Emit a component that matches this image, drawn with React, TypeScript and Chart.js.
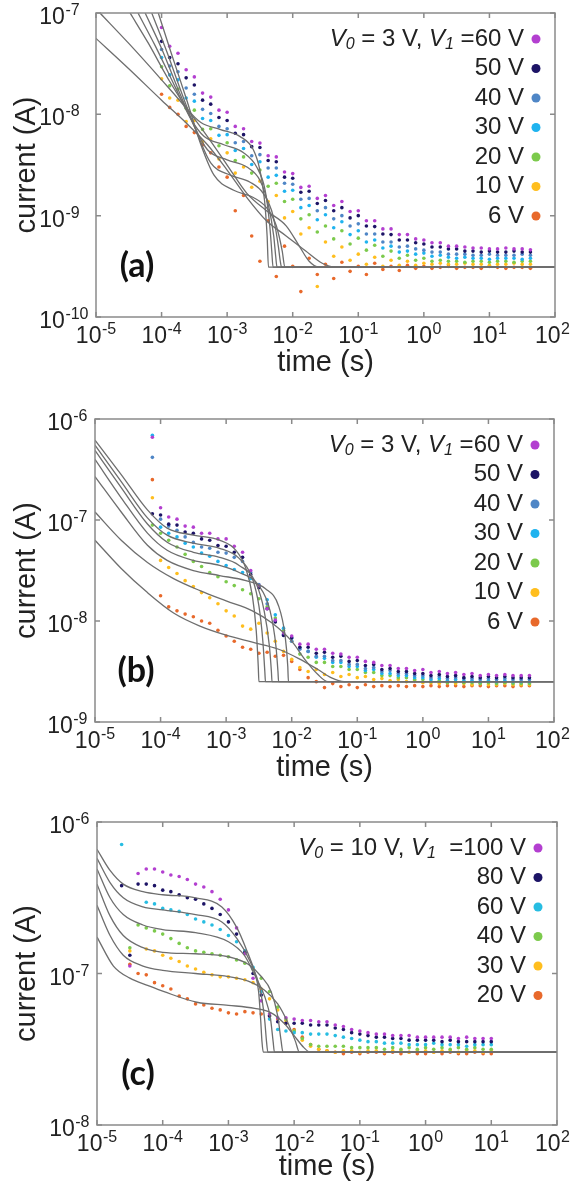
import React, { useEffect, useRef } from 'react';
import { Chart, registerables } from 'chart.js';

Chart.register(...registerables);

// ---------------- shared axis data ----------------
const xTickValues = [1e-5, 1e-4, 1e-3, 1e-2, 1e-1, 1e0, 1e1, 1e2];
const tickBase = '10';
const xTickExps = ['-5', '-4', '-3', '-2', '-1', '0', '1', '2'];

// ---------------- panel (a) ----------------
const yTicksA = [1e-10, 1e-9, 1e-8, 1e-7];
const yTickExpsA = ['-10', '-9', '-8', '-7'];
const voltsA = ['60 V', '50 V', '40 V', '30 V', '20 V', '10 V', '6 V'];
const colorsA = ['#b33fd0', '#1d1466', '#4f86c6', '#1fb3ef', '#7cca4c', '#ffbe1e', '#e8692b'];

const timeA = [
  1e-4, 1.33e-4, 1.78e-4, 2.37e-4, 3.16e-4, 4.22e-4, 5.62e-4, 7.5e-4,
  1e-3, 1.33e-3, 1.78e-3, 2.37e-3, 3.16e-3, 4.22e-3, 5.62e-3, 7.5e-3,
  1e-2, 1.33e-2, 1.78e-2, 2.37e-2, 3.16e-2, 4.22e-2, 5.62e-2, 7.5e-2,
  0.1, 0.133, 0.178, 0.237, 0.316, 0.422, 0.562, 0.75,
  1, 1.33, 1.78, 2.37, 3.16, 4.22, 5.62, 7.5,
  10, 13.3, 17.8, 23.7, 31.6, 42.2,
];
const a60 = [
  7.2e-8, 4.7e-8, 4.0e-8, 2.75e-8, 2.34e-8, 1.62e-8, 1.48e-8, 1.1e-8,
  1.05e-8, 7.6e-9, 7.2e-9, 5.4e-9, 5.2e-9, 3.9e-9, 3.8e-9, 2.7e-9,
  2.6e-9, 1.9e-9, 1.95e-9, 1.48e-9, 1.58e-9, 1.26e-9, 1.38e-9, 1.1e-9,
  1.12e-9, 8.9e-10, 8.9e-10, 7.4e-10, 7.4e-10, 6.5e-10, 6.5e-10, 5.9e-10,
  5.75e-10, 5.4e-10, 5.4e-10, 5.0e-10, 5.0e-10, 4.9e-10, 4.8e-10, 4.8e-10,
  4.7e-10, 4.7e-10, 4.8e-10, 4.7e-10, 4.7e-10, 4.6e-10,
];
const a50 = [
  5.25e-8, 3.63e-8, 3.16e-8, 2.29e-8, 1.95e-8, 1.38e-8, 1.26e-8, 9.3e-9,
  8.7e-9, 6.5e-9, 6.3e-9, 4.8e-9, 4.7e-9, 3.5e-9, 3.4e-9, 2.4e-9,
  2.34e-9, 1.7e-9, 1.74e-9, 1.32e-9, 1.41e-9, 1.12e-9, 1.2e-9, 9.5e-10,
  1.0e-9, 7.9e-10, 7.8e-10, 6.6e-10, 6.5e-10, 5.75e-10, 5.75e-10, 5.4e-10,
  5.25e-10, 4.9e-10, 4.9e-10, 4.7e-10, 4.7e-10, 4.47e-10, 4.47e-10, 4.37e-10,
  4.47e-10, 4.37e-10, 4.37e-10, 4.47e-10, 4.37e-10, 4.37e-10,
];
const a40 = [
  4.37e-8, 3.0e-8, 2.63e-8, 1.82e-8, 1.58e-8, 1.12e-8, 1.02e-8, 7.6e-9,
  7.2e-9, 5.25e-9, 5.4e-9, 3.9e-9, 4.0e-9, 2.95e-9, 2.95e-9, 2.09e-9,
  2.04e-9, 1.45e-9, 1.48e-9, 1.12e-9, 1.2e-9, 9.3e-10, 1.0e-9, 7.9e-10,
  8.3e-10, 6.6e-10, 6.6e-10, 5.5e-10, 5.5e-10, 4.9e-10, 5.0e-10, 4.7e-10,
  4.57e-10, 4.37e-10, 4.37e-10, 4.17e-10, 4.17e-10, 4.17e-10, 4.07e-10, 4.07e-10,
  4.17e-10, 4.07e-10, 4.07e-10, 4.07e-10, 4.17e-10, 4.07e-10,
];
const a30 = [
  3.63e-8, 2.45e-8, 2.19e-8, 1.45e-8, 1.35e-8, 9.1e-9, 8.7e-9, 6.2e-9,
  6.3e-9, 4.4e-9, 4.6e-9, 3.2e-9, 3.4e-9, 2.4e-9, 2.5e-9, 1.74e-9,
  1.78e-9, 1.2e-9, 1.26e-9, 9.1e-10, 1.02e-9, 7.6e-10, 8.7e-10, 6.5e-10,
  7.1e-10, 5.5e-10, 5.75e-10, 4.8e-10, 5.0e-10, 4.37e-10, 4.47e-10, 4.17e-10,
  4.27e-10, 3.98e-10, 4.07e-10, 3.89e-10, 3.8e-10, 3.89e-10, 3.8e-10, 3.8e-10,
  3.72e-10, 3.8e-10, 3.8e-10, 3.8e-10, 3.72e-10, 3.8e-10,
];
const a20 = [
  2.95e-8, 1.91e-8, 1.78e-8, 1.15e-8, 1.1e-8, 7.1e-9, 7.2e-9, 4.9e-9,
  5.25e-9, 3.5e-9, 3.8e-9, 2.63e-9, 2.82e-9, 1.95e-9, 2.09e-9, 1.38e-9,
  1.45e-9, 9.3e-10, 1.02e-9, 6.9e-10, 7.9e-10, 5.9e-10, 7.1e-10, 5.25e-10,
  6.0e-10, 4.57e-10, 5.1e-10, 3.98e-10, 4.47e-10, 3.8e-10, 4.07e-10, 3.63e-10,
  3.8e-10, 3.55e-10, 3.63e-10, 3.55e-10, 3.55e-10, 3.47e-10, 3.55e-10, 3.55e-10,
  3.47e-10, 3.55e-10, 3.55e-10, 3.47e-10, 3.55e-10, 3.55e-10,
];
const a10 = [
  2.24e-8, 1.45e-8, 1.38e-8, 8.5e-9, 8.7e-9, 5.4e-9, 5.75e-9, 3.63e-9,
  4.17e-9, 2.63e-9, 3.02e-9, 1.91e-9, 2.19e-9, 1.38e-9, 1.58e-9, 9.5e-10,
  1.1e-9, 6.6e-10, 7.6e-10, 2.0e-10, 5.5e-10, 3.98e-10, 4.9e-10, 3.63e-10,
  4.17e-10, 3.31e-10, 3.89e-10, 3.16e-10, 3.63e-10, 3.24e-10, 3.55e-10, 3.24e-10,
  3.39e-10, 3.31e-10, 3.39e-10, 3.31e-10, 3.31e-10, 3.39e-10, 3.31e-10, 3.31e-10,
  3.24e-10, 3.31e-10, 3.31e-10, 3.39e-10, 3.31e-10, 3.31e-10,
];
const a6 = [
  1.58e-8, 1.17e-8, 1.0e-8, 7.6e-9, 6.6e-9, 5.0e-9, 4.17e-9, 3.02e-9,
  2.4e-9, 1.12e-9, 1.58e-9, 6.3e-10, 3.55e-10, 8.9e-10, 2.51e-10, 5.0e-10,
  3.16e-10, 1.78e-10, 3.8e-10, 2.63e-10, 3.31e-10, 2.4e-10, 3.47e-10, 2.82e-10,
  3.16e-10, 2.63e-10, 3.39e-10, 2.95e-10, 3.16e-10, 2.88e-10, 3.24e-10, 3.02e-10,
  3.16e-10, 3.02e-10, 3.09e-10, 3.16e-10, 3.02e-10, 3.09e-10, 3.09e-10, 3.02e-10,
  3.16e-10, 3.09e-10, 3.02e-10, 3.09e-10, 3.09e-10, 3.02e-10,
];
const fitA60 = [[3.31e-5, 1e-7], [6.31e-5, 5.01e-8], [1.26e-4, 2.24e-8], [2.51e-4, 1.12e-8], [3.98e-4, 8.32e-9], [7.94e-4, 7.08e-9], [1.58e-3, 6.03e-9], [2.51e-3, 4.47e-9], [3.16e-3, 2.82e-9], [3.72e-3, 1.41e-9], [4.07e-3, 6.31e-10], [4.27e-3, 3.11e-10], [100, 3.11e-10]];
const fitA50 = [[4.37e-5, 1e-7], [7.94e-5, 4.79e-8], [1.58e-4, 1.91e-8], [2.82e-4, 8.91e-9], [4.47e-4, 6.03e-9], [8.91e-4, 5.01e-9], [1.78e-3, 4.17e-9], [2.82e-3, 3.02e-9], [3.8e-3, 1.78e-9], [4.47e-3, 7.94e-10], [4.79e-3, 4.47e-10], [5.01e-3, 3.11e-10], [100, 3.11e-10]];
const fitA40 = [[5.62e-5, 1e-7], [1e-4, 4.47e-8], [1.78e-4, 1.78e-8], [3.16e-4, 7.59e-9], [5.01e-4, 4.47e-9], [1e-3, 3.55e-9], [2.0e-3, 3.02e-9], [3.16e-3, 2.24e-9], [4.27e-3, 1.26e-9], [5.13e-3, 6.31e-10], [5.5e-3, 3.98e-10], [5.75e-3, 3.11e-10], [100, 3.11e-10]];
const fitA30 = [[7.08e-5, 1e-7], [1.2e-4, 4.17e-8], [2.0e-4, 1.66e-8], [3.55e-4, 6.31e-9], [5.62e-4, 3.31e-9], [1.12e-3, 2.51e-9], [2.24e-3, 2.14e-9], [3.55e-3, 1.66e-9], [5.01e-3, 1e-9], [6.03e-3, 5.01e-10], [6.46e-3, 3.55e-10], [6.76e-3, 3.11e-10], [100, 3.11e-10]];
const fitA20 = [[8.91e-5, 1e-7], [1.41e-4, 3.98e-8], [2.4e-4, 1.41e-8], [3.98e-4, 5.01e-9], [6.31e-4, 2.51e-9], [1.26e-3, 1.78e-9], [2.51e-3, 1.51e-9], [3.98e-3, 1.2e-9], [5.62e-3, 7.94e-10], [6.92e-3, 4.47e-10], [7.59e-3, 3.11e-10], [100, 3.11e-10]];
const fitA10 = [[1.15e-5, 1e-7], [3.16e-5, 5.01e-8], [1e-4, 2.19e-8], [2.51e-4, 1.1e-8], [5.01e-4, 6.03e-9], [1e-3, 3.16e-9], [2.0e-3, 1.66e-9], [3.98e-3, 1.12e-9], [7.94e-3, 7.94e-10], [1.26e-2, 5.01e-10], [1.78e-2, 3.55e-10], [2.51e-2, 3.11e-10], [100, 3.11e-10]];
const fitA6 = [[1e-5, 5.62e-8], [3.16e-5, 2.82e-8], [1e-4, 1.38e-8], [2.51e-4, 7.94e-9], [5.01e-4, 5.01e-9], [1e-3, 2.82e-9], [2.0e-3, 1.51e-9], [3.98e-3, 8.91e-10], [7.94e-3, 6.31e-10], [1.58e-2, 4.47e-10], [2.82e-2, 3.39e-10], [4.47e-2, 3.11e-10], [100, 3.11e-10]];

// ---------------- panel (b) ----------------
const yTicksB = [1e-9, 1e-8, 1e-7, 1e-6];
const yTickExpsB = ['-9', '-8', '-7', '-6'];
const voltsB = ['60 V', '50 V', '40 V', '30 V', '20 V', '10 V', '6 V'];
const colorsB = ['#b33fd0', '#1d1466', '#4f86c6', '#1fb3ef', '#7cca4c', '#ffbe1e', '#e8692b'];

const timeB = [
  7.5e-5,
  1e-4, 1.33e-4, 1.78e-4, 2.37e-4, 3.16e-4, 4.22e-4, 5.62e-4, 7.5e-4,
  1e-3, 1.33e-3, 1.78e-3, 2.37e-3, 3.16e-3, 4.22e-3, 5.62e-3, 7.5e-3,
  1e-2, 1.33e-2, 1.78e-2, 2.37e-2, 3.16e-2, 4.22e-2, 5.62e-2, 7.5e-2,
  0.1, 0.133, 0.178, 0.237, 0.316, 0.422, 0.562, 0.75,
  1, 1.33, 1.78, 2.37, 3.16, 4.22, 5.62, 7.5,
  10, 13.3, 17.8, 23.7, 31.6, 42.2,
];
const b60 = [
  6.6e-7, 1.32e-7, 1.07e-7, 1.02e-7, 8.7e-8, 8.5e-8, 7.4e-8, 7.4e-8,
  6.5e-8, 6.5e-8, 5.5e-8, 4.8e-8, 3.16e-8, 2.24e-8, 1.32e-8, 1.02e-8,
  7.6e-9, 7.1e-9, 5.9e-9, 5.9e-9, 5.25e-9, 5.25e-9, 4.8e-9, 4.7e-9,
  4.37e-9, 4.37e-9, 3.98e-9, 3.89e-9, 3.63e-9, 3.63e-9, 3.39e-9, 3.39e-9,
  3.24e-9, 3.31e-9, 3.09e-9, 3.16e-9, 3.02e-9, 3.09e-9, 2.95e-9, 3.02e-9,
  2.88e-9, 2.95e-9, 2.88e-9, 2.95e-9, 2.88e-9, 2.88e-9, 2.88e-9,
];
const b50 = [
  1.15e-7, 1.12e-7, 9.1e-8, 8.9e-8, 7.6e-8, 7.4e-8, 6.5e-8, 6.3e-8,
  5.6e-8, 5.5e-8, 4.8e-8, 4.27e-8, 2.88e-8, 2.14e-8, 1.32e-8, 9.8e-9,
  7.2e-9, 6.8e-9, 5.5e-9, 5.5e-9, 4.8e-9, 4.9e-9, 4.37e-9, 4.47e-9,
  3.98e-9, 4.07e-9, 3.63e-9, 3.72e-9, 3.31e-9, 3.39e-9, 3.16e-9, 3.16e-9,
  3.02e-9, 3.02e-9, 2.88e-9, 2.95e-9, 2.82e-9, 2.88e-9, 2.75e-9, 2.82e-9,
  2.75e-9, 2.82e-9, 2.75e-9, 2.82e-9, 2.75e-9, 2.75e-9, 2.75e-9,
];
const b40 = [
  4.17e-7, 1.02e-7, 8.7e-8, 7.9e-8, 6.8e-8, 6.0e-8, 5.4e-8, 5.25e-8,
  4.8e-8, 4.7e-8, 4.27e-8, 3.89e-8, 3.02e-8, 2.29e-8, 1.48e-8, 1.0e-8,
  7.4e-9, 6.3e-9, 5.25e-9, 5.0e-9, 4.47e-9, 4.47e-9, 4.07e-9, 4.07e-9,
  3.72e-9, 3.72e-9, 3.39e-9, 3.47e-9, 3.16e-9, 3.24e-9, 3.02e-9, 3.02e-9,
  2.88e-9, 2.88e-9, 2.75e-9, 2.82e-9, 2.69e-9, 2.75e-9, 2.69e-9, 2.69e-9,
  2.63e-9, 2.69e-9, 2.63e-9, 2.69e-9, 2.63e-9, 2.63e-9, 2.63e-9,
];
const b30 = [
  6.9e-7, 8.5e-8, 7.4e-8, 6.8e-8, 5.9e-8, 5.4e-8, 4.7e-8, 4.37e-8,
  3.89e-8, 3.55e-8, 3.24e-8, 3.02e-8, 2.63e-8, 2.19e-8, 1.62e-8, 1.15e-8,
  8.5e-9, 6.8e-9, 5.4e-9, 5.0e-9, 4.37e-9, 4.27e-9, 3.89e-9, 3.89e-9,
  3.55e-9, 3.55e-9, 3.24e-9, 3.31e-9, 3.02e-9, 3.02e-9, 2.88e-9, 2.88e-9,
  2.75e-9, 2.75e-9, 2.63e-9, 2.69e-9, 2.57e-9, 2.63e-9, 2.57e-9, 2.57e-9,
  2.51e-9, 2.57e-9, 2.51e-9, 2.57e-9, 2.51e-9, 2.51e-9, 2.51e-9,
];
const b20 = [
  8.9e-8, 7.4e-8, 6.3e-8, 5.4e-8, 4.57e-8, 3.89e-8, 3.47e-8, 3.02e-8,
  2.75e-8, 2.45e-8, 2.24e-8, 2.04e-8, 1.86e-8, 1.66e-8, 1.38e-8, 1.07e-8,
  8.1e-9, 6.3e-9, 4.7e-9, 4.37e-9, 3.89e-9, 3.89e-9, 3.55e-9, 3.55e-9,
  3.31e-9, 3.31e-9, 3.09e-9, 3.09e-9, 2.88e-9, 2.88e-9, 2.75e-9, 2.75e-9,
  2.63e-9, 2.63e-9, 2.51e-9, 2.57e-9, 2.45e-9, 2.51e-9, 2.45e-9, 2.45e-9,
  2.4e-9, 2.45e-9, 2.4e-9, 2.45e-9, 2.4e-9, 2.4e-9, 2.4e-9,
];
const b10 = [
  1.66e-7, 3.98e-8, 3.39e-8, 2.95e-8, 2.51e-8, 2.19e-8, 1.91e-8, 1.7e-8,
  1.48e-8, 1.26e-8, 1.12e-8, 8.9e-9, 8.3e-9, 9.5e-9, 7.6e-9, 6.3e-9,
  5.0e-9, 4.17e-9, 3.47e-9, 3.16e-9, 3.31e-9, 2.95e-9, 3.09e-9, 2.82e-9,
  2.95e-9, 2.75e-9, 2.82e-9, 2.63e-9, 2.69e-9, 2.57e-9, 2.63e-9, 2.51e-9,
  2.57e-9, 2.45e-9, 2.45e-9, 2.4e-9, 2.45e-9, 2.4e-9, 2.4e-9, 2.34e-9,
  2.4e-9, 2.34e-9, 2.34e-9, 2.4e-9, 2.34e-9, 2.34e-9, 2.34e-9,
];
const b6 = [
  2.51e-7, 1.78e-8, 1.38e-8, 1.26e-8, 1.17e-8, 1.1e-8, 1.0e-8, 9.5e-9,
  8.1e-9, 7.1e-9, 6.3e-9, 5.5e-9, 5.25e-9, 4.8e-9, 4.9e-9, 4.47e-9,
  4.57e-9, 3.98e-9, 3.31e-9, 2.75e-9, 2.51e-9, 2.19e-9, 2.4e-9, 2.24e-9,
  2.34e-9, 2.19e-9, 2.34e-9, 2.24e-9, 2.29e-9, 2.24e-9, 2.29e-9, 2.24e-9,
  2.29e-9, 2.24e-9, 2.29e-9, 2.24e-9, 2.29e-9, 2.29e-9, 2.24e-9, 2.29e-9,
  2.29e-9, 2.24e-9, 2.29e-9, 2.29e-9, 2.24e-9, 2.29e-9, 2.29e-9,
];
const fitB60 = [[1e-5, 6.17e-7], [2.51e-5, 2.82e-7], [6.31e-5, 1.26e-7], [1.26e-4, 8.32e-8], [3.16e-4, 7.08e-8], [7.94e-4, 6.31e-8], [1.41e-3, 5.01e-8], [2.0e-3, 3.31e-8], [2.51e-3, 1.78e-8], [2.88e-3, 7.94e-9], [3.09e-3, 3.55e-9], [3.16e-3, 2.51e-9], [100, 2.51e-9]];
const fitB50 = [[1e-5, 5.5e-7], [2.51e-5, 2.4e-7], [6.31e-5, 1.05e-7], [1.26e-4, 7.08e-8], [3.16e-4, 5.89e-8], [7.94e-4, 5.25e-8], [1.58e-3, 4.17e-8], [2.51e-3, 2.63e-8], [3.16e-3, 1.41e-8], [3.63e-3, 6.31e-9], [3.89e-3, 3.16e-9], [3.98e-3, 2.51e-9], [100, 2.51e-9]];
const fitB40 = [[1e-5, 4.9e-7], [2.51e-5, 2.09e-7], [6.31e-5, 9.12e-8], [1.26e-4, 6.03e-8], [3.16e-4, 4.79e-8], [7.94e-4, 4.27e-8], [1.58e-3, 3.55e-8], [2.82e-3, 2.4e-8], [3.8e-3, 1.26e-8], [4.57e-3, 5.62e-9], [4.9e-3, 3.16e-9], [5.01e-3, 2.51e-9], [100, 2.51e-9]];
const fitB30 = [[1e-5, 3.98e-7], [2.51e-5, 1.66e-7], [6.31e-5, 7.41e-8], [1.26e-4, 5.01e-8], [3.16e-4, 3.98e-8], [7.94e-4, 3.55e-8], [1.58e-3, 3.02e-8], [3.16e-3, 2.24e-8], [4.68e-3, 1.26e-8], [5.75e-3, 5.62e-9], [6.17e-3, 3.16e-9], [6.31e-3, 2.51e-9], [100, 2.51e-9]];
const fitB20 = [[1e-5, 2.69e-7], [2.51e-5, 1.2e-7], [6.31e-5, 5.62e-8], [1.26e-4, 3.98e-8], [3.16e-4, 3.16e-8], [7.94e-4, 2.82e-8], [2.0e-3, 2.51e-8], [3.98e-3, 2.09e-8], [6.31e-3, 1.41e-8], [7.94e-3, 7.08e-9], [8.71e-3, 3.55e-9], [8.91e-3, 2.51e-9], [100, 2.51e-9]];
const fitB10 = [[1e-5, 1.2e-7], [2.51e-5, 6.31e-8], [6.31e-5, 3.8e-8], [1.58e-4, 2.63e-8], [3.98e-4, 2.0e-8], [1e-3, 1.58e-8], [2.51e-3, 1.26e-8], [5.01e-3, 9.55e-9], [1e-2, 6.31e-9], [1.58e-2, 4.17e-9], [2.51e-2, 2.95e-9], [3.55e-2, 2.51e-9], [100, 2.51e-9]];
const fitB6 = [[1e-5, 6.31e-8], [2.51e-5, 3.31e-8], [6.31e-5, 1.91e-8], [1.58e-4, 1.2e-8], [3.98e-4, 8.91e-9], [1e-3, 7.24e-9], [2.51e-3, 6.17e-9], [6.31e-3, 5.25e-9], [1.26e-2, 4.27e-9], [2.51e-2, 3.31e-9], [3.98e-2, 2.75e-9], [6.31e-2, 2.51e-9], [100, 2.51e-9]];

// ---------------- panel (c) ----------------
const yTicksC = [1e-8, 1e-7, 1e-6];
const yTickExpsC = ['-8', '-7', '-6'];
const voltsC = ['100 V', '80 V', '60 V', '40 V', '30 V', '20 V'];
const colorsC = ['#b33fd0', '#1d1466', '#27bde2', '#7cca4c', '#ffbe1e', '#e8692b'];

const timeC = [
  2.37e-5, 3.16e-5, 4.22e-5, 5.62e-5, 7.5e-5,
  1e-4, 1.33e-4, 1.78e-4, 2.37e-4, 3.16e-4, 4.22e-4, 5.62e-4, 7.5e-4,
  1e-3, 1.33e-3, 1.78e-3, 2.37e-3, 3.16e-3, 4.22e-3, 5.62e-3, 7.5e-3,
  1e-2, 1.33e-2, 1.78e-2, 2.37e-2, 3.16e-2, 4.22e-2, 5.62e-2, 7.5e-2,
  0.1, 0.133, 0.178, 0.237, 0.316, 0.422, 0.562, 0.75,
  1, 1.33, 1.78, 2.37, 3.16, 4.22, 5.62, 7.5,
  10,
];
const c100 = [
  null, 1.12e-7, 4.57e-7, 4.9e-7, 4.9e-7, 4.68e-7, 4.47e-7, 4.37e-7,
  4.17e-7, 3.89e-7, 3.72e-7, 3.47e-7, 3.09e-7, 2.63e-7, 2.0e-7, 1.35e-7,
  9.3e-8, 6.6e-8, 5.4e-8, 5.1e-8, 5.1e-8, 5.0e-8, 4.9e-8, 4.9e-8,
  4.8e-8, 4.8e-8, 4.57e-8, 4.47e-8, 4.27e-8, 4.17e-8, 4.07e-8, 3.98e-8,
  3.98e-8, 3.89e-8, 3.89e-8, 3.89e-8, 3.8e-8, 3.8e-8, 3.8e-8, 3.8e-8,
  3.8e-8, 3.72e-8, 3.8e-8, 3.72e-8, 3.72e-8, 3.72e-8,
];
const c80 = [
  3.8e-7, 1.32e-7, 3.89e-7, 3.89e-7, 3.8e-7, 3.55e-7, 3.47e-7, 3.31e-7,
  3.16e-7, 3.09e-7, 2.88e-7, 2.69e-7, 2.45e-7, 2.19e-7, 1.82e-7, 1.38e-7,
  1.0e-7, 7.2e-8, 5.25e-8, 4.8e-8, 4.7e-8, 4.7e-8, 4.7e-8, 4.57e-8,
  4.57e-8, 4.57e-8, 4.37e-8, 4.27e-8, 4.07e-8, 3.98e-8, 3.89e-8, 3.8e-8,
  3.8e-8, 3.72e-8, 3.72e-8, 3.63e-8, 3.63e-8, 3.63e-8, 3.63e-8, 3.55e-8,
  3.63e-8, 3.55e-8, 3.55e-8, 3.55e-8, 3.55e-8, 3.55e-8,
];
const c60 = [
  7.1e-7, null, null, 2.95e-7, 2.88e-7, 2.69e-7, 2.63e-7, 2.57e-7,
  2.45e-7, 2.29e-7, 2.19e-7, 2.09e-7, 1.95e-7, 1.78e-7, 1.62e-7, 1.41e-7,
  1.1e-7, 7.6e-8, 5.0e-8, 4.27e-8, 4.17e-8, 4.07e-8, 4.07e-8, 3.98e-8,
  3.98e-8, 3.98e-8, 3.89e-8, 3.8e-8, 3.72e-8, 3.63e-8, 3.55e-8, 3.55e-8,
  3.47e-8, 3.47e-8, 3.47e-8, 3.39e-8, 3.39e-8, 3.39e-8, 3.47e-8, 3.39e-8,
  3.39e-8, 3.39e-8, 3.31e-8, 3.39e-8, 3.39e-8, 3.39e-8,
];
const c40 = [
  null, 1.48e-7, 2.09e-7, 2.0e-7, 1.91e-7, 1.82e-7, 1.7e-7, 1.58e-7,
  1.48e-7, 1.41e-7, 1.38e-7, 1.35e-7, 1.32e-7, 1.29e-7, 1.23e-7, 1.17e-7,
  1.07e-7, 9.3e-8, 7.6e-8, 6.0e-8, 5.0e-8, 4.17e-8, 3.72e-8, 3.39e-8,
  3.31e-8, 3.31e-8, 3.31e-8, 3.31e-8, 3.24e-8, 3.24e-8, 3.24e-8, 3.24e-8,
  3.16e-8, 3.24e-8, 3.16e-8, 3.24e-8, 3.16e-8, 3.24e-8, 3.16e-8, 3.24e-8,
  3.16e-8, 3.24e-8, 3.16e-8, 3.24e-8, 3.16e-8, 3.16e-8,
];
const c30 = [
  null, 1.41e-7, null, 1.45e-7, 1.41e-7, 1.32e-7, 1.26e-7, 1.2e-7,
  1.12e-7, 1.07e-7, 1.02e-7, 9.8e-8, 9.5e-8, 9.5e-8, 9.3e-8, 9.1e-8,
  8.7e-8, 7.9e-8, 6.8e-8, 5.75e-8, 4.9e-8, 4.17e-8, 3.63e-8, 3.31e-8,
  3.16e-8, 3.09e-8, 3.02e-8, 3.09e-8, 3.09e-8, 3.02e-8, 3.09e-8, 3.09e-8,
  3.02e-8, 3.09e-8, 3.09e-8, 3.02e-8, 3.09e-8, 3.09e-8, 3.02e-8, 3.09e-8,
  3.09e-8, 3.02e-8, 3.09e-8, 3.09e-8, 3.02e-8, 3.09e-8,
];
const c20 = [
  null, 1.15e-7, 1.0e-7, 9.8e-8, 8.7e-8, 8.3e-8, 7.9e-8, 7.1e-8,
  6.8e-8, 6.3e-8, 6.2e-8, 5.9e-8, 5.75e-8, 5.5e-8, 5.4e-8, 5.6e-8,
  5.5e-8, 5.4e-8, 5.25e-8, 5.0e-8, 4.7e-8, 4.27e-8, 3.8e-8, 3.39e-8,
  3.16e-8, 3.09e-8, 3.02e-8, 2.95e-8, 3.02e-8, 2.95e-8, 3.02e-8, 3.02e-8,
  2.95e-8, 3.02e-8, 2.95e-8, 3.02e-8, 2.95e-8, 2.95e-8, 3.02e-8, 2.95e-8,
  3.02e-8, 2.95e-8, 2.95e-8, 3.02e-8, 2.95e-8, 2.95e-8,
];
const fitC100 = [[1e-5, 6.61e-7], [1.58e-5, 4.79e-7], [2.51e-5, 3.89e-7], [5.01e-5, 3.47e-7], [1e-4, 3.31e-7], [3.16e-4, 3.16e-7], [7.94e-4, 2.75e-7], [1.35e-3, 2.0e-7], [1.95e-3, 1.38e-7], [2.51e-3, 1.02e-7], [2.88e-3, 7.59e-8], [3.09e-3, 5.01e-8], [3.24e-3, 3.55e-8], [3.39e-3, 3.03e-8], [100, 3.03e-8]];
const fitC80 = [[1e-5, 5.75e-7], [1.58e-5, 3.98e-7], [2.51e-5, 3.16e-7], [5.01e-5, 2.75e-7], [1e-4, 2.63e-7], [3.16e-4, 2.45e-7], [7.94e-4, 2.19e-7], [1.35e-3, 1.7e-7], [2.14e-3, 1.2e-7], [3.02e-3, 7.94e-8], [3.55e-3, 5.01e-8], [3.8e-3, 3.55e-8], [3.98e-3, 3.03e-8], [100, 3.03e-8]];
const fitC60 = [[1e-5, 4.9e-7], [1.58e-5, 3.16e-7], [2.51e-5, 2.45e-7], [5.01e-5, 2.09e-7], [1e-4, 1.95e-7], [3.16e-4, 1.86e-7], [1e-3, 1.62e-7], [1.74e-3, 1.32e-7], [2.51e-3, 9.77e-8], [3.55e-3, 7.08e-8], [4.37e-3, 5.01e-8], [4.79e-3, 3.55e-8], [5.01e-3, 3.03e-8], [100, 3.03e-8]];
const fitC40 = [[1e-5, 3.89e-7], [1.58e-5, 2.4e-7], [2.51e-5, 1.78e-7], [5.01e-5, 1.48e-7], [1e-4, 1.38e-7], [3.16e-4, 1.35e-7], [1e-3, 1.29e-7], [2.0e-3, 1.15e-7], [3.16e-3, 9.55e-8], [4.47e-3, 7.59e-8], [5.62e-3, 5.25e-8], [6.31e-3, 3.63e-8], [6.76e-3, 3.03e-8], [100, 3.03e-8]];
const fitC30 = [[1e-5, 2.82e-7], [1.58e-5, 1.78e-7], [2.51e-5, 1.32e-7], [5.01e-5, 1.12e-7], [1e-4, 1.05e-7], [3.16e-4, 1e-7], [1e-3, 9.55e-8], [2.0e-3, 8.91e-8], [3.55e-3, 7.76e-8], [5.62e-3, 6.31e-8], [7.94e-3, 4.79e-8], [1.05e-2, 3.55e-8], [1.2e-2, 3.03e-8], [100, 3.03e-8]];
const fitC20 = [[1e-5, 1.74e-7], [1.78e-5, 1.12e-7], [3.16e-5, 9.33e-8], [6.03e-5, 8.32e-8], [1.05e-4, 7.59e-8], [3.31e-4, 6.46e-8], [1e-3, 6.17e-8], [2.51e-3, 5.89e-8], [4.47e-3, 5.5e-8], [7.08e-3, 4.68e-8], [1e-2, 3.89e-8], [1.41e-2, 3.24e-8], [1.74e-2, 3.03e-8], [100, 3.03e-8]];

// ---------------- styling ----------------
const TEXT_COLOR = '#222222';
const FIT_COLOR = '#6e6e6e';
const FRAME_COLOR = '#8a8a8a';
const TEXT_FAMILY = "'Liberation Sans', Arial, sans-serif";
const TICK_BASE_FONT = `23px ${TEXT_FAMILY}`;
const TICK_SUP_FONT = `16px ${TEXT_FAMILY}`;
const LETTER_FONT = "bold 34px Lato, 'Liberation Sans', sans-serif";

type HeaderPart = { t: string; italic?: boolean; sub?: boolean };

const headerAB: HeaderPart[] = [
  { t: 'V', italic: true }, { t: '0', italic: true, sub: true }, { t: ' = 3 V, ' },
  { t: 'V', italic: true }, { t: '1', italic: true, sub: true }, { t: ' =' },
];
const headerC: HeaderPart[] = [
  { t: 'V', italic: true }, { t: '0', italic: true, sub: true }, { t: ' = 10 V, ' },
  { t: 'V', italic: true }, { t: '1', italic: true, sub: true }, { t: '  =' },
];

interface PanelSpec {
  times: number[];
  series: (number | null)[][];
  labels: string[];
  colors: string[];
  fits: number[][][];
  yMin: number;
  yMax: number;
  yTicks: number[];
  yTickExps: string[];
  header: HeaderPart[];
  letter: string;
  top: number;
  height: number;
  padTop: number;
  padRight: number;
  padBottom: number;
  yAxisWidth: number;
  xAxisHeight: number;
}

const panels: PanelSpec[] = [
  {
    times: timeA, series: [a60, a50, a40, a30, a20, a10, a6], labels: voltsA, colors: colorsA,
    fits: [fitA60, fitA50, fitA40, fitA30, fitA20, fitA10, fitA6],
    yMin: 1e-10, yMax: 1e-7, yTicks: yTicksA, yTickExps: yTickExpsA, header: headerAB, letter: '(a)',
    top: 0, height: 390, padTop: 13, padRight: 15, padBottom: 10, yAxisWidth: 96, xAxisHeight: 63,
  },
  {
    times: timeB, series: [b60, b50, b40, b30, b20, b10, b6], labels: voltsB, colors: colorsB,
    fits: [fitB60, fitB50, fitB40, fitB30, fitB20, fitB10, fitB6],
    yMin: 1e-9, yMax: 1e-6, yTicks: yTicksB, yTickExps: yTickExpsB, header: headerAB, letter: '(b)',
    top: 390, height: 400, padTop: 29, padRight: 16, padBottom: 5, yAxisWidth: 95, xAxisHeight: 63,
  },
  {
    times: timeC, series: [c100, c80, c60, c40, c30, c20], labels: voltsC, colors: colorsC,
    fits: [fitC100, fitC80, fitC60, fitC40, fitC30, fitC20],
    yMin: 1e-8, yMax: 1e-6, yTicks: yTicksC, yTickExps: yTickExpsC, header: headerC, letter: '(c)',
    top: 790, height: 401, padTop: 32, padRight: 13, padBottom: 7, yAxisWidth: 97, xAxisHeight: 59,
  },
];

function powWidth(ctx: CanvasRenderingContext2D, exp: string) {
  ctx.font = TICK_BASE_FONT;
  const wb = ctx.measureText(tickBase).width;
  ctx.font = TICK_SUP_FONT;
  const ws = ctx.measureText(exp).width;
  return { wb, ws };
}

function drawPow(ctx: CanvasRenderingContext2D, exp: string, left: number, baseline: number) {
  const { wb } = powWidth(ctx, exp);
  ctx.font = TICK_BASE_FONT;
  ctx.fillText(tickBase, left, baseline);
  ctx.font = TICK_SUP_FONT;
  ctx.fillText(exp, left + wb + 0.5, baseline - 9);
}

function makeDecor(p: PanelSpec) {
  return {
    id: 'decor',
    afterDraw(chart: any) {
      const { ctx, chartArea: ca } = chart;
      const xs = chart.scales.x;
      const ys = chart.scales.y;
      ctx.save();
      // frame + inward ticks
      ctx.strokeStyle = FRAME_COLOR;
      ctx.lineWidth = 1.5;
      ctx.strokeRect(ca.left, ca.top, ca.right - ca.left, ca.bottom - ca.top);
      ctx.beginPath();
      xs.ticks.forEach((t: any) => {
        const px = xs.getPixelForValue(t.value);
        ctx.moveTo(px, ca.bottom); ctx.lineTo(px, ca.bottom - 5);
        ctx.moveTo(px, ca.top); ctx.lineTo(px, ca.top + 5);
      });
      ys.ticks.forEach((t: any) => {
        const py = ys.getPixelForValue(t.value);
        ctx.moveTo(ca.left, py); ctx.lineTo(ca.left + 5, py);
        ctx.moveTo(ca.right, py); ctx.lineTo(ca.right - 5, py);
      });
      ctx.stroke();

      // tick labels 10^n
      ctx.fillStyle = TEXT_COLOR;
      ctx.textAlign = 'left';
      ctx.textBaseline = 'alphabetic';
      xs.ticks.forEach((t: any, i: number) => {
        const exp = xTickExps[i];
        const { wb, ws } = powWidth(ctx, exp);
        const px = xs.getPixelForValue(t.value);
        const w = wb + ws + 0.5;
        const left = Math.min(px - w / 2, chart.width - w);
        drawPow(ctx, exp, left, ca.bottom + 26);
      });
      let maxW = 0;
      p.yTickExps.forEach((exp) => {
        const { wb, ws } = powWidth(ctx, exp);
        maxW = Math.max(maxW, wb + ws);
      });
      const yLeft = ca.left - 8 - maxW;
      ys.ticks.forEach((t: any, i: number) => {
        const py = ys.getPixelForValue(t.value);
        drawPow(ctx, p.yTickExps[i], yLeft, py + 11);
      });

      // panel letter
      ctx.fillStyle = '#111111';
      ctx.font = LETTER_FONT;
      ctx.textAlign = 'center';
      ctx.textBaseline = 'middle';
      ctx.fillText(p.letter, ca.left + 41, ca.bottom - 51);

      // legend rows
      const dotX = ca.right - 19;
      const textRight = dotX - 12;
      const rowTop = ca.top + 26;
      const rowStep = 29.5;
      ctx.font = `24px ${TEXT_FAMILY}`;
      ctx.textAlign = 'right';
      p.labels.forEach((lab, i) => {
        const y = rowTop + i * rowStep;
        ctx.fillStyle = TEXT_COLOR;
        ctx.fillText(lab, textRight, y);
        ctx.fillStyle = p.colors[i];
        ctx.beginPath();
        ctx.arc(dotX, y, 4.5, 0, Math.PI * 2);
        ctx.fill();
      });

      // header (V0 = .., V1 =)
      ctx.font = `24px ${TEXT_FAMILY}`;
      const firstW = ctx.measureText(p.labels[0]).width;
      const fontFor = (pt: HeaderPart) =>
        pt.sub ? `italic 16px ${TEXT_FAMILY}` : pt.italic ? `italic 24px ${TEXT_FAMILY}` : `24px ${TEXT_FAMILY}`;
      let total = 0;
      p.header.forEach((pt) => { ctx.font = fontFor(pt); total += ctx.measureText(pt.t).width; });
      let cx = textRight - firstW - total;
      ctx.textAlign = 'left';
      ctx.fillStyle = TEXT_COLOR;
      p.header.forEach((pt) => {
        ctx.font = fontFor(pt);
        ctx.fillText(pt.t, cx, pt.sub ? rowTop + 6 : rowTop);
        cx += ctx.measureText(pt.t).width;
      });
      ctx.restore();
    },
  };
}

function buildConfig(p: PanelSpec): any {
  const fitSets = p.fits.map((f) => ({
    type: 'scatter',
    label: 'fit',
    data: f.map(([x, y]) => ({ x, y })),
    showLine: true,
    borderColor: FIT_COLOR,
    borderWidth: 1.3,
    pointRadius: 0,
    cubicInterpolationMode: 'monotone',
    order: 0,
  }));
  const dataSets = p.series.map((vals, si) => ({
    type: 'scatter',
    label: p.labels[si],
    data: vals
      .map((v, i) => (v === null ? null : { x: p.times[i], y: v }))
      .filter((d) => d !== null),
    showLine: false,
    pointRadius: 1.8,
    pointBorderWidth: 0,
    backgroundColor: p.colors[si],
    borderColor: p.colors[si],
    order: 1,
  }));
  return {
    type: 'scatter',
    data: { datasets: [...fitSets, ...dataSets] },
    options: {
      responsive: false,
      animation: false,
      events: [],
      layout: { autoPadding: false, padding: { top: p.padTop, right: p.padRight, bottom: p.padBottom, left: 0 } },
      plugins: { legend: { display: false }, tooltip: { enabled: false } },
      scales: {
        x: {
          type: 'logarithmic',
          min: 1e-5,
          max: 1e2,
          afterBuildTicks: (s: any) => { s.ticks = xTickValues.map((v) => ({ value: v })); },
          afterFit: (s: any) => { s.height = p.xAxisHeight; s.paddingLeft = 0; s.paddingRight = 0; },
          grid: { display: false, drawTicks: false },
          border: { display: false },
          ticks: { display: false },
          title: {
            display: true, text: 'time (s)', color: TEXT_COLOR,
            font: { family: TEXT_FAMILY, size: 29 }, padding: { top: 0, bottom: 0 },
          },
        },
        y: {
          type: 'logarithmic',
          min: p.yMin,
          max: p.yMax,
          afterBuildTicks: (s: any) => { s.ticks = p.yTicks.map((v) => ({ value: v })); },
          afterFit: (s: any) => { s.width = p.yAxisWidth; s.paddingTop = 0; s.paddingBottom = 0; },
          grid: { display: false, drawTicks: false },
          border: { display: false },
          ticks: { display: false },
          title: {
            display: true, text: 'current (A)', color: TEXT_COLOR,
            font: { family: TEXT_FAMILY, size: 29 }, padding: { top: 10, bottom: 0 },
          },
        },
      },
    },
    plugins: [makeDecor(p)],
  };
}

function Panel({ spec }: { spec: PanelSpec }) {
  const ref = useRef<HTMLCanvasElement>(null);
  useEffect(() => {
    const chart = new Chart(ref.current as HTMLCanvasElement, buildConfig(spec));
    return () => chart.destroy();
  }, [spec]);
  return (
    <canvas
      ref={ref}
      width={570}
      height={spec.height}
      style={{ position: 'absolute', left: 0, top: spec.top, width: 570, height: spec.height }}
    />
  );
}

export default function App() {
  return (
    <div style={{ position: 'absolute', left: 0, top: 0, width: 570, height: 1191, background: '#ffffff' }}>
      {panels.map((p) => (
        <Panel key={p.letter} spec={p} />
      ))}
    </div>
  );
}
